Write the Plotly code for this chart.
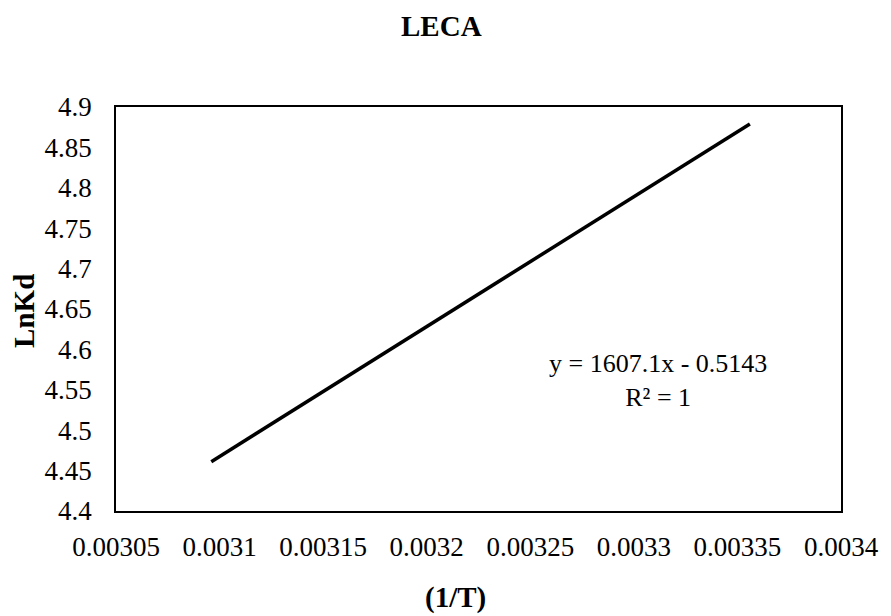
import plotly.graph_objects as go

# Van't Hoff data for LECA: inverse temperature vs ln(Kd)
inv_T = [0.003356, 0.003247, 0.003145, 0.003096]
ln_kd = [4.879, 4.704, 4.540, 4.461]

x_ticks = [0.00305, 0.0031, 0.00315, 0.0032, 0.00325, 0.0033, 0.00335, 0.0034]
x_tick_text = ["0.00305", "0.0031", "0.00315", "0.0032", "0.00325", "0.0033", "0.00335", "0.0034"]
y_ticks = [4.4, 4.45, 4.5, 4.55, 4.6, 4.65, 4.7, 4.75, 4.8, 4.85, 4.9]
y_tick_text = ["4.4", "4.45", "4.5", "4.55", "4.6", "4.65", "4.7", "4.75", "4.8", "4.85", "4.9"]

FONT = "Liberation Serif"

# plot-area geometry in pixels (used to place free text in paper coords)
W, H = 891, 616
L, R, T, B = 116, 43, 107, 105
PW, PH = W - L - R, H - T - B


def px_to_paper(px, py):
    return (px - L) / PW, (H - B - py) / PH


fig = go.Figure()
fig.add_trace(go.Scatter(
    x=inv_T, y=ln_kd, mode="lines",
    line=dict(color="black", width=3.5),
    showlegend=False, hoverinfo="skip",
))

axis_common = dict(
    showgrid=False, zeroline=False, showline=True, linecolor="black",
    linewidth=1.5, mirror=True, ticks="",
    tickfont=dict(family=FONT, size=27, color="black"),
)

fig.update_xaxes(range=[0.00305, 0.0034], tickmode="array",
                 tickvals=x_ticks, ticktext=x_tick_text,
                 ticklabelstandoff=11, **axis_common)
fig.update_yaxes(range=[4.4, 4.9], tickmode="array",
                 tickvals=y_ticks, ticktext=y_tick_text,
                 ticklabelstandoff=17, **axis_common)

title_font = dict(family=FONT, size=29, color="black")

tx, ty = px_to_paper(445, 26)
fig.add_annotation(text="<b>LECA</b>", xref="paper", yref="paper", x=tx, y=ty,
                   showarrow=False, font=title_font,
                   xanchor="center", yanchor="middle")
tx, ty = px_to_paper(459, 597)
fig.add_annotation(text="<b>(1/T)</b>", xref="paper", yref="paper", x=tx, y=ty,
                   showarrow=False, font=title_font,
                   xanchor="center", yanchor="middle")
tx, ty = px_to_paper(23, 311)
fig.add_annotation(text="<b>LnKd</b>", xref="paper", yref="paper", x=tx, y=ty,
                   showarrow=False, textangle=-90, font=title_font,
                   xanchor="center", yanchor="middle")
tx, ty = px_to_paper(663, 380)
fig.add_annotation(text="y = 1607.1x - 0.5143<br>R² = 1", xref="paper", yref="paper",
                   x=tx, y=ty, showarrow=False,
                   font=dict(family=FONT, size=26, color="black"),
                   xanchor="center", yanchor="middle", align="center")

fig.update_layout(
    width=W, height=H,
    margin=dict(l=L, r=R, t=T, b=B),
    paper_bgcolor="white", plot_bgcolor="white",
    font=dict(family=FONT, color="black"),
)

fig.write_html("out.html")
